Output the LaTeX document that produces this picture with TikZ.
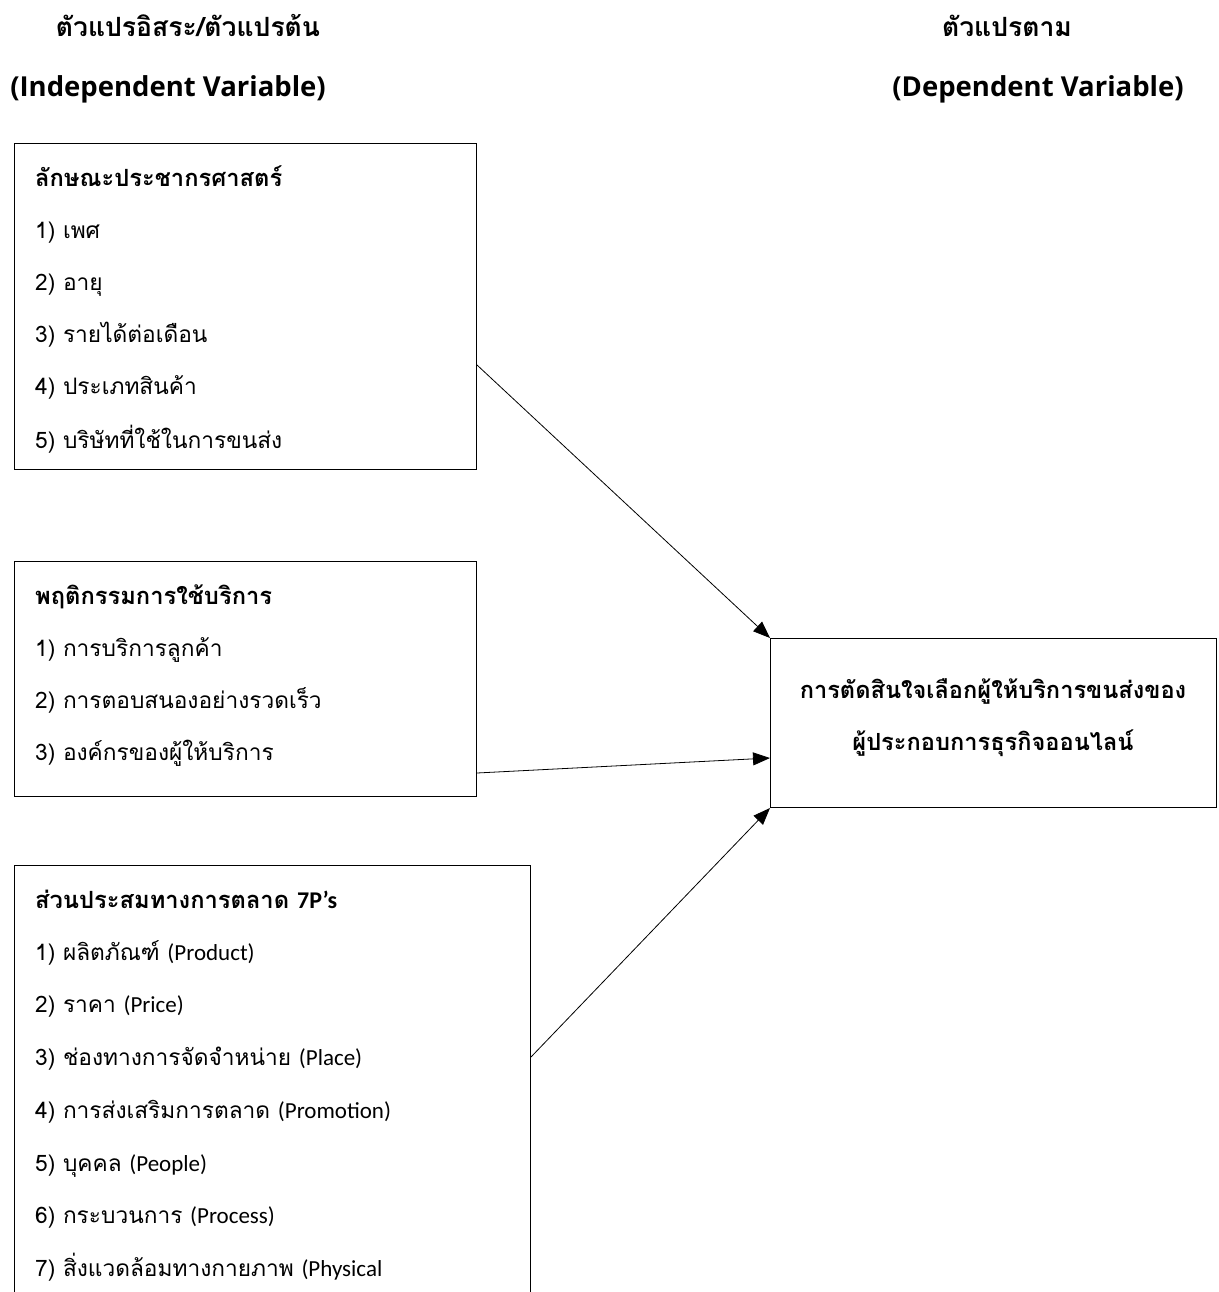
\documentclass[tikz,border=0pt]{standalone}
\usepackage{fontspec}
\usetikzlibrary{arrows.meta}
\newfontfamily\thaifont[Script=Thai]{Loma}
\newfontfamily\latinhead{Open Sans}
\newfontfamily\latinbody{Carlito}
\begin{document}
\begin{tikzpicture}[x=1pt,y=-1pt,
  box/.style={draw,line width=1pt,inner sep=0pt},
  line/.style={anchor=base west,inner sep=0pt,font=\thaifont\fontsize{22.7}{27}\selectfont},
  title/.style={anchor=base west,inner sep=0pt,font=\thaifont\bfseries\fontsize{23.7}{28}\selectfont},
  head/.style={anchor=base,inner sep=0pt,font=\thaifont\bfseries\fontsize{26.5}{30}\selectfont},
  lhead/.style={anchor=base,inner sep=0pt,font=\latinhead\bfseries\fontsize{27.5}{32}\selectfont},
  ttext/.style={anchor=base,inner sep=0pt,font=\thaifont\bfseries\fontsize{23.6}{28}\selectfont},
  arr/.style={line width=0.8pt,-{Triangle[length=17pt,width=13pt]}}]
\newcommand\lt[1]{{\latinbody\fontsize{23}{27}\selectfont #1}}
\useasboundingbox (0,0) rectangle (1218,1292);
\clip (0,0) rectangle (1218,1292);
% headers
\node[head] (h1) at (188,37) {ตัวแปรอิสระ/ตัวแปรต้น};
\node[lhead] (h2) at (168,97) {(Independent Variable)};
\node[head] (h3) at (1007,37) {ตัวแปรตาม};
\node[lhead] (h4) at (1038,97) {(Dependent Variable)};
% boxes
\node[box,anchor=north west,minimum width=462pt,minimum height=326pt] (b1) at (14,143) {};
\node[box,anchor=north west,minimum width=462pt,minimum height=235pt] (b2) at (14,561) {};
\node[box,anchor=north west,minimum width=516pt,minimum height=460pt] (b3) at (14,865) {};
\node[box,anchor=north west,minimum width=446pt,minimum height=169pt] (t) at (770,638) {};
% box 1 text
\node[title] (b1t) at (35,186) {ลักษณะประชากรศาสตร์};
\node[line] (b1a) at (35,238) {1) เพศ};
\node[line] (b1b) at (35,290) {2) อายุ};
\node[line] (b1c) at (35,342) {3) รายได้ต่อเดือน};
\node[line] (b1d) at (35,394) {4) ประเภทสินค้า};
\node[line] (b1e) at (35,448) {5) บริษัทที่ใช้ในการขนส่ง};
% box 2 text
\node[title] (b2t) at (35,604) {พฤติกรรมการใช้บริการ};
\node[line] (b2a) at (35,656) {1) การบริการลูกค้า};
\node[line] (b2b) at (35,708) {2) การตอบสนองอย่างรวดเร็ว};
\node[line] (b2c) at (35,760) {3) องค์กรของผู้ให้บริการ};
% box 3 text
\node[title] (b3t) at (35,908) {ส่วนประสมทางการตลาด {\latinbody\fontsize{24}{28}\selectfont 7P’s}};
\node[line] (b3a) at (35,960) {1) ผลิตภัณฑ์ \lt{(Product)}};
\node[line] (b3b) at (35,1012) {2) ราคา \lt{(Price)}};
\node[line] (b3c) at (35,1065) {3) ช่องทางการจัดจำหน่าย \lt{(Place)}};
\node[line] (b3d) at (35,1118) {4) การส่งเสริมการตลาด \lt{(Promotion)}};
\node[line] (b3e) at (35,1171) {5) บุคคล \lt{(People)}};
\node[line] (b3f) at (35,1223) {6) กระบวนการ \lt{(Process)}};
\node[line] (b3g) at (35,1276) {7) สิ่งแวดล้อมทางกายภาพ \lt{(Physical}};
% target text
\node[ttext] (t1) at (993,698) {การตัดสินใจเลือกผู้ให้บริการขนส่งของ};
\node[ttext] (t2) at (993,750) {ผู้ประกอบการธุรกิจออนไลน์};
% arrows
\draw[arr] (b1.east |- 0,365) -- (t.north west);
\draw[arr] (b2.east |- 0,773) -- (t.west |- 0,758);
\draw[arr] (b3.east |- 0,1057) -- (t.south west);
\end{tikzpicture}
\end{document}
